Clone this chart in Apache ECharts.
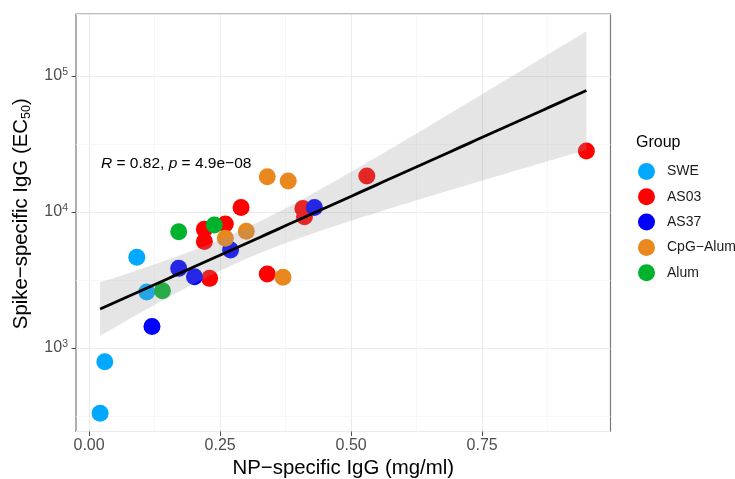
<!DOCTYPE html>
<html>
<head>
<meta charset="utf-8">
<script src="https://cdn.jsdelivr.net/npm/echarts@6/dist/echarts.min.js"></script>
<style>
html,body{margin:0;padding:0;background:#fff;}
#chart{width:735px;height:479px;}
</style>
</head>
<body>
<div id="chart"></div>
<script>
// ---- data ----
const groupNames = ['SWE', 'AS03', 'AS37', 'CpG\u2212Alum', 'Alum'];
const groupColors = ['#00A9FF', '#FF0000', '#0000FF', '#E8881E', '#00B22C'];

const sweX  = [0.021, 0.030, 0.091, 0.110];
const sweY  = [331, 793, 4650, 2580];
const as03X = [0.220, 0.220, 0.230, 0.260, 0.290, 0.340, 0.408, 0.411, 0.530, 0.949];
const as03Y = [7460, 6060, 3250, 8160, 10800, 3500, 10600, 9230, 18400, 28100];
const as37X = [0.120, 0.171, 0.201, 0.270, 0.430];
const as37Y = [1440, 3850, 3340, 5260, 10800];
const cpgX  = [0.340, 0.380, 0.260, 0.300, 0.370];
const cpgY  = [18200, 16900, 6410, 7210, 3310];
const alumX = [0.171, 0.239, 0.140];
const alumY = [7160, 8020, 2640];

const xTicks = [0, 0.25, 0.5, 0.75];
const xTickLabels = ['0.00', '0.25', '0.50', '0.75'];
const yTickExponents = [3, 4, 5];
const yMinorBreaks = [Math.pow(10, 2.5), Math.pow(10, 3.5), Math.pow(10, 4.5)];
const annotation = {R: '0.82', p: '4.9e\u221208'};

// axis ranges
const xMin = -0.025, xMax = 0.995;
const yMin = 243, yMax = 286000;

// ---- linear fit of log10(y) on x with 95% band (as geom_smooth(method = lm)) ----
const groupsX = [sweX, as03X, as37X, cpgX, alumX];
const groupsY = [sweY, as03Y, as37Y, cpgY, alumY];
const allX = [].concat(...groupsX);
const allL = [].concat(...groupsY).map(v => Math.log10(v));
const n = allX.length;
const mx = allX.reduce((a, b) => a + b, 0) / n;
const my = allL.reduce((a, b) => a + b, 0) / n;
let sxx = 0, sxy = 0;
for (let i = 0; i < n; i++) { sxx += (allX[i] - mx) ** 2; sxy += (allX[i] - mx) * (allL[i] - my); }
const slope = sxy / sxx, icpt = my - slope * mx;
let sse = 0;
for (let i = 0; i < n; i++) sse += (allL[i] - icpt - slope * allX[i]) ** 2;
const sRes = Math.sqrt(sse / (n - 2));
const tCrit = 2.0595; // t(0.975, df = 25)
const x0 = Math.min(...allX), x1 = Math.max(...allX);
const fitLine = [], bandUpper = [], bandLower = [];
for (let k = 0; k < 80; k++) {
  const x = x0 + (x1 - x0) * k / 79;
  const f = icpt + slope * x;
  const se = sRes * Math.sqrt(1 / n + (x - mx) ** 2 / sxx);
  fitLine.push([x, Math.pow(10, f)]);
  bandUpper.push([x, Math.pow(10, f + tCrit * se)]);
  bandLower.push([x, Math.pow(10, f - tCrit * se)]);
}

const FONT = '"Liberation Sans", Arial, Helvetica, sans-serif';

const scatterSeries = groupNames.map((name, g) => ({
  name: name,
  type: 'scatter',
  z: 2,
  symbol: 'circle',
  symbolSize: 17,
  itemStyle: {color: groupColors[g], opacity: 1},
  emphasis: {disabled: true},
  data: groupsX[g].map((x, i) => [x, groupsY[g][i]])
}));

const chart = echarts.init(document.getElementById('chart'), null, {renderer: 'canvas'});
chart.setOption({
  animation: false,
  textStyle: {fontFamily: FONT},
  grid: {
    left: 76, right: 124.5, top: 14, bottom: 47.5,
    containLabel: false, outerBoundsMode: 'none',
    show: true, borderColor: '#7a7a7a', borderWidth: 1.2, backgroundColor: '#fff'
  },
  title: {
    text: 'Group', left: 636, top: 135, padding: 0,
    textStyle: {fontFamily: FONT, fontSize: 16, fontWeight: 'normal', color: '#000'}
  },
  legend: {
    data: groupNames,
    orient: 'vertical',
    left: 638, top: 163,
    padding: 0,
    itemGap: 8.3,
    itemWidth: 17, itemHeight: 17,
    icon: 'circle',
    textStyle: {fontFamily: FONT, fontSize: 14, color: '#1a1a1a', padding: [0, 0, 0, 7]},
    selectedMode: false
  },
  graphic: [{
    type: 'text',
    left: 101, top: 156,
    z: 10,
    style: {
      text: '{i|R}{n| = ' + annotation.R + ', }{i|p}{n| = ' + annotation.p + '}',
      rich: {
        i: {fontFamily: FONT, fontSize: 15.5, fontStyle: 'italic', fill: '#000'},
        n: {fontFamily: FONT, fontSize: 15.5, fill: '#000'}
      }
    }
  }],
  xAxis: {
    type: 'value',
    min: xMin, max: xMax,
    minInterval: 0.25, maxInterval: 0.25,
    name: 'NP\u2212specific IgG (mg/ml)',
    nameLocation: 'middle',
    nameGap: 25,
    nameTextStyle: {fontFamily: FONT, fontSize: 20.4, color: '#000'},
    axisLine: {show: false, onZero: false},
    axisTick: {show: true, length: 4.5, customValues: xTicks, lineStyle: {color: '#4d4d4d', width: 1}},
    axisLabel: {
      customValues: xTicks,
      margin: 6,
      fontFamily: FONT, fontSize: 16, color: '#4d4d4d',
      formatter: v => {
        const i = xTicks.findIndex(t => Math.abs(t - v) < 1e-9);
        return i >= 0 ? xTickLabels[i] : '';
      }
    },
    splitLine: {show: true, lineStyle: {color: '#ebebeb', width: 1.1}},
    minorTick: {show: false, splitNumber: 2},
    minorSplitLine: {show: true, lineStyle: {color: '#f3f3f3', width: 0.7}}
  },
  yAxis: [{
    type: 'log',
    logBase: 10,
    min: yMin, max: yMax,
    name: '{t|Spike\u2212specific IgG (EC}{u|50}{t|)}',
    nameLocation: 'middle',
    nameGap: 38,
    nameRotate: 90,
    nameTextStyle: {
      fontFamily: FONT, fontSize: 20.4, color: '#000',
      padding: [0, 0, 0, 18],
      rich: {
        t: {fontFamily: FONT, fontSize: 20.4, color: '#000', lineHeight: 25},
        u: {fontFamily: FONT, fontSize: 12.5, color: '#000', lineHeight: 13, verticalAlign: 'bottom'}
      }
    },
    axisLine: {show: false, onZero: false},
    axisTick: {show: false},
    axisLabel: {
      margin: 8,
      formatter: v => {
        const e = Math.log10(v);
        const r = Math.round(e);
        if (Math.abs(e - r) > 1e-6) return '';
        return '{b|10}{s|' + r + '}';
      },
      rich: {
        b: {fontFamily: FONT, fontSize: 16, color: '#4d4d4d', lineHeight: 19},
        s: {fontFamily: FONT, fontSize: 10.5, color: '#4d4d4d', lineHeight: 10, verticalAlign: 'top'}
      }
    },
    splitLine: {show: true, lineStyle: {color: '#ebebeb', width: 1.1}}
  }, {
    // tick marks only, on the same decades (exponent scale)
    type: 'value',
    position: 'left',
    min: Math.log10(yMin), max: Math.log10(yMax),
    minInterval: 1, maxInterval: 1,
    axisLine: {show: false, onZero: false},
    axisTick: {show: true, length: 4.5, customValues: yTickExponents, lineStyle: {color: '#4d4d4d', width: 1}},
    axisLabel: {show: false},
    splitLine: {show: false}
  }],
  series: [
    {
      type: 'scatter',
      name: 'minor-grid',
      z: 1,
      data: [],
      silent: true,
      markLine: {
        silent: true, symbol: 'none', z: 1,
        label: {show: false},
        lineStyle: {color: '#f3f3f3', width: 0.7, type: 'solid'},
        data: yMinorBreaks.map(v => ({yAxis: v}))
      }
    },
    ...scatterSeries,
    {
      type: 'custom',
      name: 'band',
      z: 3,
      silent: true,
      coordinateSystem: 'cartesian2d',
      data: [bandUpper[0]],
      renderItem: (params, api) => {
        const pts = bandUpper.map(p => api.coord(p)).concat(bandLower.slice().reverse().map(p => api.coord(p)));
        return {type: 'polygon', shape: {points: pts}, style: {fill: 'rgba(153,153,153,0.25)', stroke: null}};
      }
    },
    {
      type: 'line',
      name: 'fit',
      z: 4,
      silent: true,
      symbol: 'none',
      lineStyle: {color: '#000', width: 2.8},
      data: fitLine
    }
  ]
});
</script>
</body>
</html>
